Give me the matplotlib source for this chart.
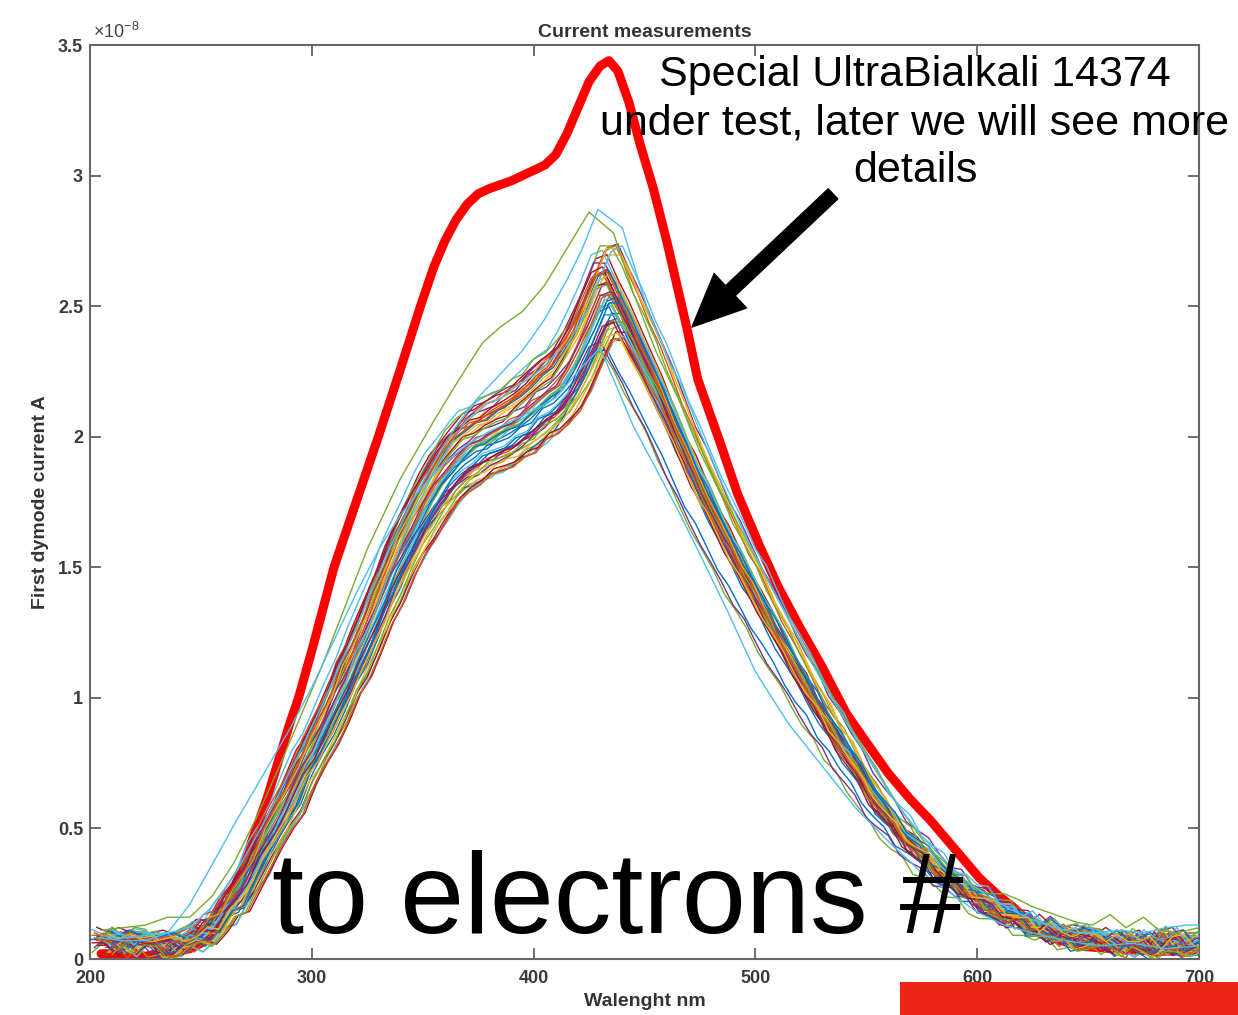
import matplotlib.pyplot as plt
import numpy as np
from matplotlib.patches import Rectangle
from matplotlib.ticker import FuncFormatter

plt.rcParams["font.family"] = ["Liberation Sans", "DejaVu Sans"]
plt.rcParams["mathtext.default"] = "regular"

# MATLAB default line colour order
LINE_COLORS = ["#0072BD", "#D95319", "#EDB120", "#7E2F8E", "#77AC30", "#4DBEEE", "#A2142F"]

# typical tube response (x1e-8 A), 205..700 nm in 5 nm steps
WAVELENGTH = np.arange(205, 701, 5)
TYPICAL_RESPONSE = [
    0.06, 0.07, 0.05, 0.06, 0.07, 0.05, 0.04, 0.06, 0.07, 0.09,
    0.12, 0.17, 0.23, 0.30, 0.38, 0.46, 0.55, 0.63, 0.72, 0.80,
    0.89, 0.98, 1.08, 1.17, 1.27, 1.37, 1.47, 1.57, 1.66, 1.74,
    1.81, 1.87, 1.92, 1.96, 1.99, 2.01, 2.03, 2.06, 2.09, 2.13,
    2.16, 2.20, 2.26, 2.34, 2.44, 2.54, 2.55, 2.47, 2.38, 2.29,
    2.20, 2.10, 2.00, 1.90, 1.81, 1.72, 1.63, 1.55, 1.47, 1.39,
    1.31, 1.23, 1.15, 1.07, 1.00, 0.93, 0.86, 0.79, 0.72, 0.65,
    0.59, 0.53, 0.48, 0.43, 0.39, 0.35, 0.31, 0.28, 0.25, 0.22,
    0.19, 0.17, 0.15, 0.13, 0.11, 0.10, 0.09, 0.08, 0.07, 0.07,
    0.07, 0.05, 0.05, 0.06, 0.05, 0.04, 0.06, 0.05, 0.04, 0.05,
]

# small measurement ripples, one pattern per group of tubes
RIPPLE_A = [
    0.02, -0.01, 0.03, 0.00, -0.02, 0.01, 0.03, -0.01, 0.00, 0.02,
    -0.02, 0.01, 0.00, -0.01, 0.02, 0.00, -0.02, 0.01, 0.02, -0.01,
    0.00, 0.01, -0.02, 0.02, 0.01, -0.01, 0.03, 0.00, -0.02, 0.01,
    0.02, -0.01, 0.00, 0.03, -0.02, 0.01, 0.02, -0.03, 0.01, 0.00,
    0.02, -0.02, 0.01, 0.03, -0.01, 0.00, 0.02, -0.02, 0.01, 0.00,
    -0.01, 0.02, 0.00, -0.02, 0.03, 0.01, -0.01, 0.02, 0.00, -0.02,
    0.01, 0.02, -0.01, 0.00, 0.03, -0.02, 0.01, 0.00, 0.02, -0.01,
    0.00, 0.02, -0.02, 0.01, 0.03, 0.00, -0.01, 0.02, -0.02, 0.01,
    0.03, -0.01, 0.00, 0.02, -0.02, 0.03, 0.00, -0.01, 0.02, 0.01,
    -0.02, 0.03, 0.00, -0.01, 0.02, -0.02, 0.01, 0.03, -0.01, 0.00,
]
RIPPLE_B = [
    -0.01, 0.02, 0.00, 0.03, 0.01, -0.02, 0.00, 0.02, 0.03, -0.01,
    0.01, 0.03, -0.02, 0.00, 0.01, 0.02, 0.00, -0.03, 0.01, 0.02,
    -0.01, 0.00, 0.02, -0.02, 0.00, 0.03, -0.01, 0.01, 0.02, -0.02,
    0.00, 0.03, 0.01, -0.02, 0.02, 0.00, -0.01, 0.02, -0.02, 0.03,
    0.00, 0.01, -0.02, 0.00, 0.02, 0.03, -0.01, 0.01, -0.02, 0.02,
    0.03, -0.01, 0.02, 0.00, -0.02, 0.01, 0.03, -0.02, 0.01, 0.02,
    -0.02, 0.00, 0.03, 0.01, -0.01, 0.02, -0.02, 0.03, 0.00, 0.01,
    0.02, -0.01, 0.00, 0.03, -0.02, 0.01, 0.02, 0.00, 0.03, -0.01,
    0.00, 0.02, 0.04, -0.01, 0.01, 0.00, 0.03, -0.02, 0.00, 0.02,
    0.01, -0.01, 0.03, 0.00, -0.02, 0.02, 0.00, -0.01, 0.03, 0.02,
]
RIPPLE_C = [
    0.01, 0.00, -0.02, 0.02, 0.00, 0.03, -0.01, 0.01, -0.02, 0.00,
    0.03, -0.01, 0.02, 0.01, -0.02, 0.03, 0.01, 0.00, -0.02, 0.02,
    0.01, -0.02, 0.03, 0.00, -0.01, 0.02, 0.00, 0.03, -0.01, 0.00,
    -0.02, 0.01, 0.03, 0.00, 0.01, -0.02, 0.03, 0.01, 0.00, -0.02,
    0.03, 0.00, 0.02, -0.02, 0.01, -0.01, 0.03, 0.00, 0.02, -0.02,
    0.01, 0.00, -0.02, 0.03, 0.00, -0.01, 0.02, 0.01, -0.02, 0.03,
    0.00, -0.02, 0.01, 0.03, 0.00, -0.01, 0.02, -0.02, 0.01, 0.03,
    -0.02, 0.01, 0.03, -0.01, 0.00, 0.02, -0.02, 0.01, 0.00, 0.03,
    -0.01, 0.01, -0.02, 0.03, 0.00, 0.01, -0.02, 0.02, 0.04, -0.01,
    0.02, 0.00, -0.02, 0.03, 0.01, 0.00, 0.04, -0.02, 0.01, 0.03,
]
RIPPLES = [RIPPLE_A, RIPPLE_B, RIPPLE_C]

# per-tube gain, wavelength offset (nm) and dark current offset
TUBE_GAIN = [
    1.03, 0.95, 1.00, 1.06, 0.92, 0.99, 1.04, 0.97, 1.08, 0.94,
    1.01, 0.96, 1.05, 0.93, 0.98, 1.02, 1.07, 0.95, 1.00, 0.97,
    1.04, 0.91, 0.99, 1.03, 0.96, 1.06, 0.94, 1.01, 0.98, 1.02,
    0.93, 1.05, 0.97, 1.00, 0.95, 1.03, 0.99, 1.08, 0.92, 1.01,
    0.96, 1.04, 0.98, 0.94, 1.02, 1.00, 0.97, 1.06, 0.95, 0.99,
    1.03, 0.93,
]
TUBE_SHIFT = [
    -3, 4, 0, 3, -4, 2, -2, 5, 2, 3,
    1, 6, -4, 5, -1, -3, 4, 2, 4, 0,
    -2, -2, -1, 1, 3, 0, 6, -2, 2, -4,
    4, -3, 0, 3, 7, -1, 1, 3, -5, -2,
    2, -4, 3, 6, -1, 0, 5, 5, 1, 4,
    -2, 3,
]
TUBE_DARK = [
    0.00, 0.02, -0.01, 0.03, -0.02, 0.01, 0.04, 0.00, -0.03, 0.02,
    0.01, -0.02, 0.03, 0.00, -0.01, 0.02, -0.03, 0.01, 0.00, 0.03,
    -0.02, 0.01, 0.02, -0.01, 0.00, 0.03, -0.02, 0.01, -0.03, 0.02,
    0.00, -0.01, 0.03, 0.01, -0.02, 0.00, 0.02, -0.03, 0.01, 0.00,
    0.02, -0.01, 0.03, -0.02, 0.01, 0.00, -0.03, 0.02, 0.01, -0.01,
    0.00, 0.02,
]

# tubes that stand out of the bunch
GREEN_HIGH_WL = [205, 215, 225, 235, 245, 255, 265, 275, 285, 295, 305, 315, 325, 340, 355,
                 365, 377, 385, 395, 405, 415, 425, 436, 445, 455, 465, 475, 485, 495, 505,
                 515, 525, 535, 545, 555, 565, 575, 585, 595, 605, 612, 618, 625, 635, 645,
                 652, 660, 667, 675, 682, 690, 700]
GREEN_HIGH = [0.11, 0.12, 0.13, 0.16, 0.16, 0.24, 0.37, 0.54, 0.73, 0.93, 1.13, 1.35, 1.57, 1.84, 2.06,
              2.20, 2.36, 2.42, 2.48, 2.58, 2.72, 2.86, 2.78, 2.55, 2.33, 2.15, 1.96, 1.78, 1.62, 1.46,
              1.30, 1.15, 1.00, 0.86, 0.72, 0.58, 0.46, 0.36, 0.29, 0.25, 0.25, 0.23, 0.20, 0.17, 0.14,
              0.13, 0.17, 0.12, 0.16, 0.11, 0.10, 0.12]

CYAN_HIGH_WL = [205, 215, 225, 235, 245, 255, 265, 275, 285, 295, 305, 315, 325, 335, 345,
                355, 365, 375, 385, 395, 405, 415, 422, 429, 440, 452, 461, 467, 475, 485,
                495, 505, 515, 525, 535, 545, 555, 565, 575, 585, 595, 605, 615, 625, 635,
                645, 655, 665, 675, 685, 695, 700]
CYAN_HIGH = [0.09, 0.08, 0.09, 0.10, 0.12, 0.20, 0.32, 0.47, 0.63, 0.80, 0.98, 1.17, 1.37, 1.57, 1.75,
             1.90, 2.04, 2.15, 2.24, 2.33, 2.45, 2.60, 2.72, 2.87, 2.80, 2.47, 2.29, 2.19, 2.02, 1.82,
             1.63, 1.46, 1.30, 1.14, 0.99, 0.85, 0.71, 0.58, 0.47, 0.38, 0.30, 0.24, 0.19, 0.15, 0.12,
             0.10, 0.10, 0.11, 0.10, 0.12, 0.13, 0.13]

CYAN_LOW_WL = [205, 215, 225, 235, 245, 255, 266, 275, 290, 300, 310, 320, 331, 340, 350,
               360, 370, 380, 390, 400, 410, 420, 430, 436, 445, 455, 465, 475, 487, 500,
               515, 530, 545, 560, 575, 590, 600, 612, 625, 640, 655, 670, 685, 700]
CYAN_LOW = [0.08, 0.07, 0.07, 0.10, 0.21, 0.36, 0.53, 0.66, 0.88, 1.04, 1.22, 1.40, 1.58, 1.70, 1.81,
            1.90, 1.97, 2.02, 2.06, 2.10, 2.15, 2.25, 2.34, 2.22, 2.04, 1.88, 1.72, 1.55, 1.34, 1.10,
            0.90, 0.74, 0.58, 0.45, 0.33, 0.24, 0.18, 0.13, 0.10, 0.07, 0.05, 0.06, 0.04, 0.05]

# special UltraBialkali 14374
SPECIAL_WL = [205, 210, 215, 220, 225, 230, 235, 240, 245, 250, 255, 260, 265, 270, 275,
              280, 290, 294, 300, 310, 320, 330, 340, 349, 355, 360, 365, 370, 375, 380,
              390, 395, 400, 405, 410, 415, 420, 425, 430, 434, 438, 443, 448, 454, 460,
              469, 474, 484, 492, 502, 510, 520, 530, 541, 550, 560, 570, 579, 590, 601,
              610, 616, 625, 635, 645, 660, 680, 700]
SPECIAL = [0.02, 0.02, 0.01, 0.02, 0.01, 0.02, 0.02, 0.03, 0.04, 0.06, 0.09, 0.17, 0.27, 0.38, 0.50,
           0.62, 0.90, 1.00, 1.18, 1.50, 1.75, 2.00, 2.26, 2.50, 2.65, 2.75, 2.83, 2.89, 2.93, 2.95,
           2.98, 3.00, 3.02, 3.04, 3.08, 3.16, 3.26, 3.36, 3.42, 3.44, 3.40, 3.28, 3.12, 2.95, 2.75,
           2.42, 2.22, 1.98, 1.78, 1.58, 1.43, 1.27, 1.12, 0.94, 0.83, 0.71, 0.61, 0.53, 0.42, 0.31,
           0.24, 0.20, 0.13, 0.08, 0.05, 0.04, 0.03, 0.03]

X_TICKS = [200, 300, 400, 500, 600, 700]
Y_TICKS = [0, 0.5, 1, 1.5, 2, 2.5, 3, 3.5]

W, H = 1238, 1015
fig = plt.figure(figsize=(W / 100, H / 100), dpi=100)
ax = fig.add_axes([90 / W, 56 / H, 1109 / W, 914 / H])

ax.plot(SPECIAL_WL, SPECIAL, color="#FF0000", linewidth=6.5, zorder=2,
        solid_joinstyle="round", solid_capstyle="round")

response = np.array(TYPICAL_RESPONSE)
for i, (gain, shift, dark) in enumerate(zip(TUBE_GAIN, TUBE_SHIFT, TUBE_DARK)):
    # ripple is most visible where the signal is weak
    ripple = np.array(RIPPLES[i % len(RIPPLES)]) / (1 + response)
    ax.plot(WAVELENGTH + shift, response * gain + dark + ripple,
            color=LINE_COLORS[i % len(LINE_COLORS)], linewidth=1.0, zorder=3)

ax.plot(GREEN_HIGH_WL, GREEN_HIGH, color=LINE_COLORS[4], linewidth=1.0, zorder=3)
ax.plot(CYAN_HIGH_WL, CYAN_HIGH, color=LINE_COLORS[5], linewidth=1.0, zorder=3)
ax.plot(CYAN_LOW_WL, CYAN_LOW, color=LINE_COLORS[5], linewidth=1.0, zorder=3)

ax.set_xlim(200, 700)
ax.set_ylim(0, 3.5)
ax.set_xticks(X_TICKS)
ax.set_yticks(Y_TICKS)
ax.yaxis.set_major_formatter(FuncFormatter(lambda v, _: f"{v:g}"))
ax.tick_params(direction="in", length=8, width=1.2, top=True, right=True,
               labelsize=13, labelcolor="#3a3a3a", color="#555555", pad=5)
ax.tick_params(axis="x", pad=8)
for label in ax.get_xticklabels() + ax.get_yticklabels():
    label.set_fontweight("bold")
for spine in ax.spines.values():
    spine.set_color("#666666")
    spine.set_linewidth(1.5)

ax.set_title("Current measurements", fontsize=14, fontweight="bold", color="#333333", pad=6)
ax.set_xlabel("Walenght nm", fontsize=14, fontweight="bold", color="#333333")
ax.set_ylabel("First dymode current A", fontsize=14, fontweight="bold", color="#333333")
ax.xaxis.set_label_coords(0.5, -0.037)
ax.yaxis.set_label_coords(-0.037, 0.5)
ax.text(0.003, 1.003, r"$\times10^{-8}$", transform=ax.transAxes, fontsize=13,
        color="#444444", ha="left", va="bottom")

ax.annotate("", xy=(471.4, 2.42), xytext=(535, 2.93),
            arrowprops=dict(arrowstyle="simple,head_length=3.8,head_width=3.4,tail_width=1.0",
                            mutation_scale=10, color="black", shrinkA=0, shrinkB=0),
            zorder=6)

fig.text(915 / W, 1 - 123 / H,
         "Special UltraBialkali 14374\nunder test, later we will see more\ndetails",
         fontsize=31, ha="center", va="center", linespacing=1.25, zorder=10)
fig.text(272 / W, 82 / H, "to electrons #", fontsize=83, ha="left", va="baseline", zorder=10)

fig.add_artist(Rectangle((900 / W, 0), 338 / W, 33 / H, transform=fig.transFigure,
                         facecolor="#EC2514", edgecolor="none", zorder=20))

fig.savefig("out.png", dpi=100)
